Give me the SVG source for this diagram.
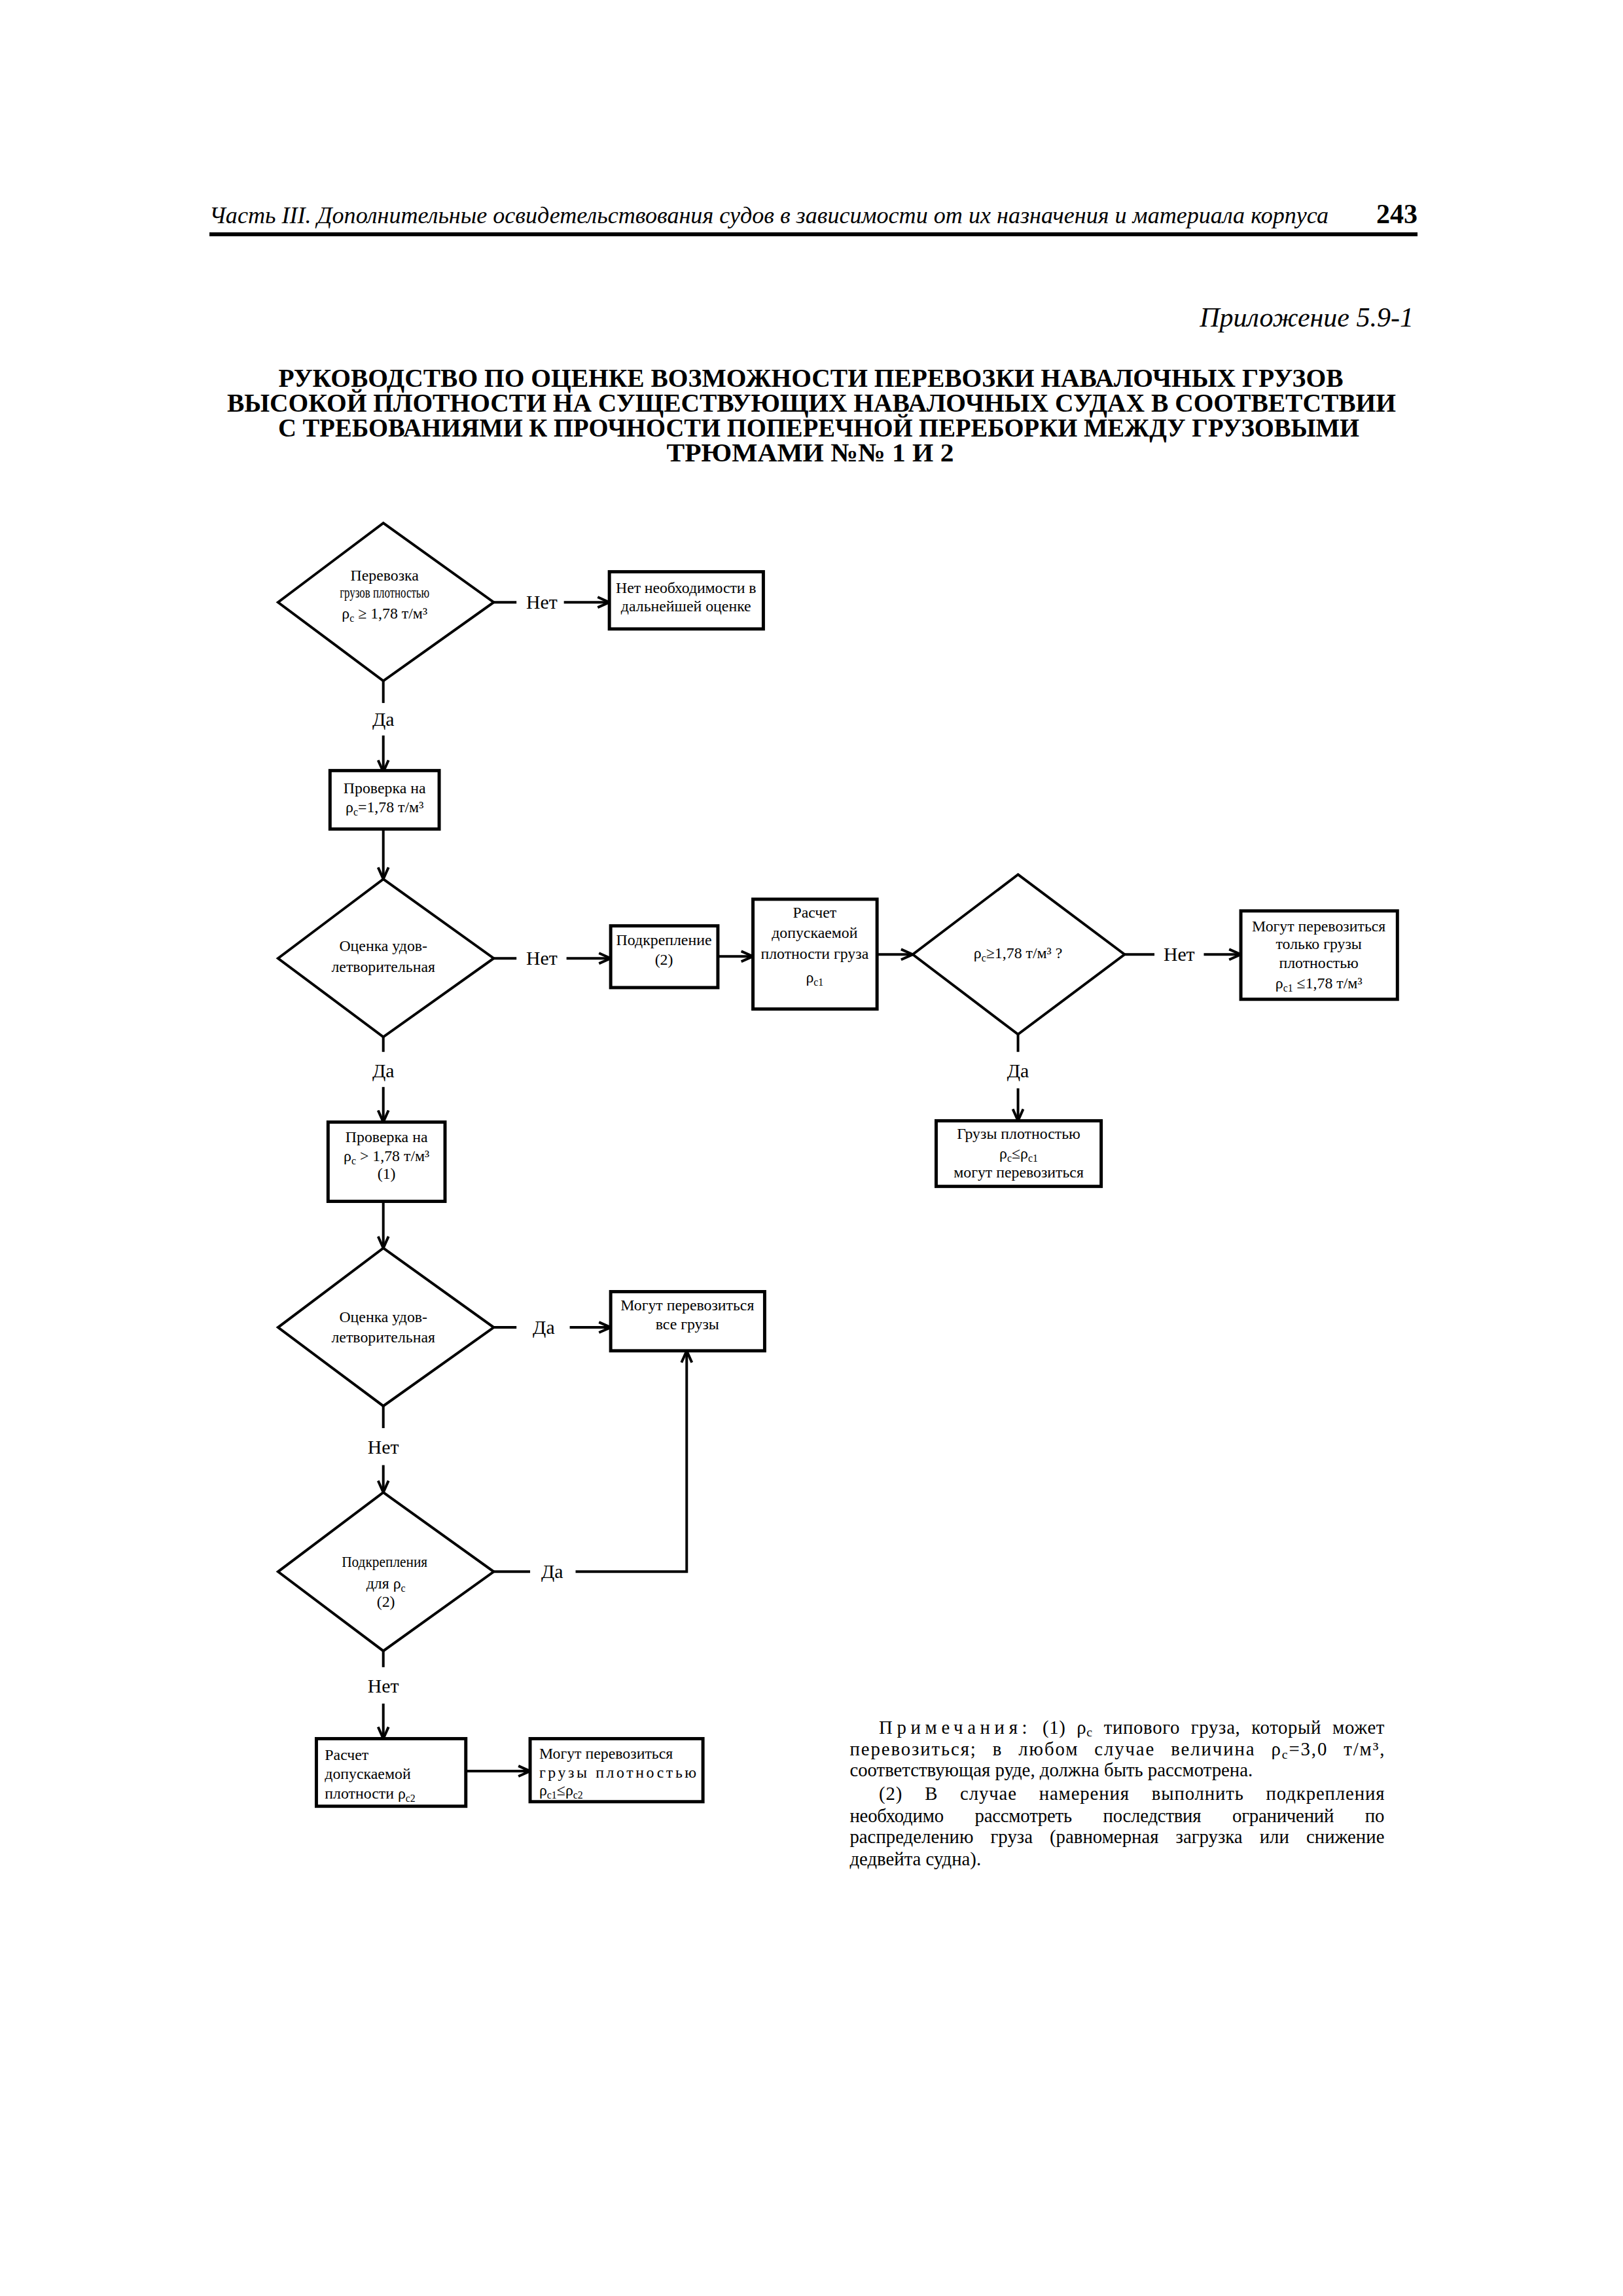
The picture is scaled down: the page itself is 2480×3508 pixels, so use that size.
<svg xmlns="http://www.w3.org/2000/svg" width="2480" height="3508" viewBox="0 0 2480 3508">
<style>
.t{font-family:"Liberation Serif","DejaVu Serif",serif;fill:#000}
.bt{font-size:24px;text-anchor:middle}
.bl{font-size:24px}
.lbl{font-size:30px;text-anchor:middle}
.nt{font-size:29px}
.box{fill:#fff;stroke:#000;stroke-width:5}
.dia{fill:#fff;stroke:#000;stroke-width:4}
.ln{fill:none;stroke:#000;stroke-width:4}
.sub{font-size:16px}
</style>
<defs>
<marker id="arr" viewBox="0 0 20 20" refX="19" refY="10" markerWidth="20" markerHeight="20" markerUnits="userSpaceOnUse" orient="auto">
<path d="M1,2 L19,10 L1,18" fill="none" stroke="#000" stroke-width="4"/>
</marker>
</defs>
<rect width="2480" height="3508" fill="#fff"/>

<g id="header">
<text class="t" x="320" y="341" font-size="35" font-style="italic" textLength="1710" lengthAdjust="spacingAndGlyphs">Часть III. Дополнительные освидетельствования судов в зависимости от их назначения и материала корпуса</text>
<text class="t" x="2166" y="341" font-size="42" font-weight="bold" text-anchor="end">243</text>
<line x1="320" y1="358" x2="2166" y2="358" stroke="#000" stroke-width="6"/>
<text class="t" x="2160" y="499" font-size="42" font-style="italic" text-anchor="end">Приложение 5.9-1</text>
</g>

<g id="title" class="t" font-weight="bold" font-size="40" text-anchor="middle">
<text x="1239" y="591" textLength="1627" lengthAdjust="spacingAndGlyphs">РУКОВОДСТВО ПО ОЦЕНКЕ ВОЗМОЖНОСТИ ПЕРЕВОЗКИ НАВАЛОЧНЫХ ГРУЗОВ</text>
<text x="1240" y="629" textLength="1786" lengthAdjust="spacingAndGlyphs">ВЫСОКОЙ ПЛОТНОСТИ НА СУЩЕСТВУЮЩИХ НАВАЛОЧНЫХ СУДАХ В СООТВЕТСТВИИ</text>
<text x="1251" y="667" textLength="1652" lengthAdjust="spacingAndGlyphs">С ТРЕБОВАНИЯМИ К ПРОЧНОСТИ ПОПЕРЕЧНОЙ ПЕРЕБОРКИ МЕЖДУ ГРУЗОВЫМИ</text>
<text x="1238" y="705" textLength="439" lengthAdjust="spacingAndGlyphs">ТРЮМАМИ №№ 1 И 2</text>
</g>

<g id="diagram" transform="scale(0.9927)">
<g id="connectors">
<line class="ln" x1="760" y1="927" x2="795" y2="927"/>
<line class="ln" x1="868" y1="927" x2="938" y2="927" marker-end="url(#arr)"/>
<line class="ln" x1="590" y1="1048" x2="590" y2="1082"/>
<line class="ln" x1="590" y1="1132" x2="590" y2="1188" marker-end="url(#arr)"/>
<line class="ln" x1="590" y1="1278" x2="590" y2="1353" marker-end="url(#arr)"/>
<line class="ln" x1="760" y1="1475" x2="795" y2="1475"/>
<line class="ln" x1="872" y1="1475" x2="940" y2="1475" marker-end="url(#arr)"/>
<line class="ln" x1="1105" y1="1472" x2="1159" y2="1472" marker-end="url(#arr)"/>
<line class="ln" x1="1350" y1="1469" x2="1405" y2="1469" marker-end="url(#arr)"/>
<line class="ln" x1="1731" y1="1469" x2="1777" y2="1469"/>
<line class="ln" x1="1853" y1="1469" x2="1910" y2="1469" marker-end="url(#arr)"/>
<line class="ln" x1="1567" y1="1592" x2="1567" y2="1619"/>
<line class="ln" x1="1567" y1="1675" x2="1567" y2="1725" marker-end="url(#arr)"/>
<line class="ln" x1="590" y1="1596" x2="590" y2="1619"/>
<line class="ln" x1="590" y1="1673" x2="590" y2="1727" marker-end="url(#arr)"/>
<line class="ln" x1="590" y1="1849" x2="590" y2="1921" marker-end="url(#arr)"/>
<line class="ln" x1="760" y1="2043" x2="795" y2="2043"/>
<line class="ln" x1="877" y1="2043" x2="940" y2="2043" marker-end="url(#arr)"/>
<line class="ln" x1="590" y1="2164" x2="590" y2="2198"/>
<line class="ln" x1="590" y1="2255" x2="590" y2="2297" marker-end="url(#arr)"/>
<line class="ln" x1="760" y1="2419" x2="816" y2="2419"/>
<polyline class="ln" points="886,2419 1057,2419 1057,2079" marker-end="url(#arr)"/>
<line class="ln" x1="590" y1="2541" x2="590" y2="2566"/>
<line class="ln" x1="590" y1="2622" x2="590" y2="2676" marker-end="url(#arr)"/>
<line class="ln" x1="717" y1="2726" x2="816" y2="2726" marker-end="url(#arr)"/>
<g class="t lbl">
<text x="834" y="937">Нет</text>
<text x="590" y="1117">Да</text>
<text x="834" y="1485">Нет</text>
<text x="1815" y="1479">Нет</text>
<text x="1567" y="1658">Да</text>
<text x="590" y="1658">Да</text>
<text x="837" y="2053">Да</text>
<text x="590" y="2237">Нет</text>
<text x="850" y="2429">Да</text>
<text x="590" y="2605">Нет</text>
</g>
</g>

<g id="d1">
<polygon class="dia" points="590,805 760,927 590,1048 428,927"/>
<text class="t bt" x="592" y="894" font-size="22">Перевозка</text>
<text class="t bt" x="592" y="920" font-size="19" textLength="138" lengthAdjust="spacingAndGlyphs">грузов плотностью</text>
<text class="t bt" x="592" y="952">ρ<tspan class="sub" dy="5">c</tspan><tspan dy="-5"> ≥ 1,78 т/м³</tspan></text>
</g>

<g id="b1">
<rect class="box" x="938" y="880" width="237" height="88"/>
<text class="t bt" x="1056" y="913" textLength="216" lengthAdjust="spacing">Нет необходимости в</text>
<text class="t bt" x="1056" y="941">дальнейшей оценке</text>
</g>

<g id="b2">
<rect class="box" x="508" y="1186" width="168" height="90"/>
<text class="t bt" x="592" y="1221">Проверка на</text>
<text class="t bt" x="592" y="1250">ρ<tspan class="sub" dy="5">c</tspan><tspan dy="-5">=1,78 т/м³</tspan></text>
</g>

<g id="d2">
<polygon class="dia" points="590,1353 760,1475 590,1596 428,1475"/>
<text class="t bt" x="590" y="1464">Оценка удов-</text>
<text class="t bt" x="590" y="1496">летворительная</text>
</g>

<g id="b3">
<rect class="box" x="940" y="1425" width="165" height="95"/>
<text class="t bt" x="1022" y="1455">Подкрепление</text>
<text class="t bt" x="1022" y="1485">(2)</text>
</g>

<g id="b4">
<rect class="box" x="1159" y="1384" width="191" height="169"/>
<text class="t bt" x="1254" y="1412">Расчет</text>
<text class="t bt" x="1254" y="1444">допускаемой</text>
<text class="t bt" x="1254" y="1476">плотности груза</text>
<text class="t bt" x="1254" y="1512">ρ<tspan class="sub" dy="5">c1</tspan></text>
</g>

<g id="d3">
<polygon class="dia" points="1567,1346 1731,1469 1567,1592 1405,1469"/>
<text class="t bt" x="1567" y="1475">ρ<tspan class="sub" dy="5">c</tspan><tspan dy="-5">≥1,78 т/м³ ?</tspan></text>
</g>

<g id="b5">
<rect class="box" x="1910" y="1402" width="241" height="136"/>
<text class="t bt" x="2030" y="1433">Могут перевозиться</text>
<text class="t bt" x="2030" y="1461">только грузы</text>
<text class="t bt" x="2030" y="1490">плотностью</text>
<text class="t bt" x="2030" y="1521">ρ<tspan class="sub" dy="5">c1</tspan><tspan dy="-5"> ≤1,78 т/м³</tspan></text>
</g>

<g id="b6">
<rect class="box" x="1441" y="1725" width="254" height="101"/>
<text class="t bt" x="1568" y="1753">Грузы плотностью</text>
<text class="t bt" x="1568" y="1783">ρ<tspan class="sub" dy="5">c</tspan><tspan dy="-5">≤ρ</tspan><tspan class="sub" dy="5">c1</tspan></text>
<text class="t bt" x="1568" y="1812">могут перевозиться</text>
</g>

<g id="b7">
<rect class="box" x="505" y="1727" width="180" height="122"/>
<text class="t bt" x="595" y="1758">Проверка на</text>
<text class="t bt" x="595" y="1787">ρ<tspan class="sub" dy="5">c</tspan><tspan dy="-5"> &gt; 1,78 т/м³</tspan></text>
<text class="t bt" x="595" y="1814">(1)</text>
</g>

<g id="d4">
<polygon class="dia" points="590,1921 760,2043 590,2164 428,2043"/>
<text class="t bt" x="590" y="2035">Оценка удов-</text>
<text class="t bt" x="590" y="2066">летворительная</text>
</g>

<g id="b8">
<rect class="box" x="940" y="1988" width="237" height="91"/>
<text class="t bt" x="1058" y="2017">Могут перевозиться</text>
<text class="t bt" x="1058" y="2046">все грузы</text>
</g>

<g id="d5">
<polygon class="dia" points="590,2297 760,2419 590,2541 428,2419"/>
<text class="t bt" x="592" y="2412" font-size="22" textLength="132" lengthAdjust="spacingAndGlyphs">Подкрепления</text>
<text class="t bt" x="594" y="2445">для ρ<tspan class="sub" dy="5">c</tspan></text>
<text class="t bt" x="594" y="2473">(2)</text>
</g>

<g id="b9">
<rect class="box" x="487" y="2676" width="230" height="104"/>
<text class="t bl" x="500" y="2709">Расчет</text>
<text class="t bl" x="500" y="2738">допускаемой</text>
<text class="t bl" x="500" y="2768">плотности ρ<tspan class="sub" dy="5">c2</tspan></text>
</g>

<g id="b10">
<rect class="box" x="816" y="2676" width="266" height="97"/>
<text class="t bl" x="830" y="2707">Могут перевозиться</text>
<text class="t bl" x="830" y="2736" textLength="242" lengthAdjust="spacing">грузы плотностью</text>
<text class="t bl" x="830" y="2763">ρ<tspan class="sub" dy="5">c1</tspan><tspan dy="-5">≤ρ</tspan><tspan class="sub" dy="5">c2</tspan></text>
</g>

<g id="notes" class="t nt">
<text x="1353" y="2668" word-spacing="9" textLength="778" lengthAdjust="spacing"><tspan letter-spacing="6">Примечания:</tspan> (1) ρ<tspan font-size="20" dy="5">c</tspan><tspan dy="-5"> типового груза, который может</tspan></text>
<text x="1308" y="2702" word-spacing="15" textLength="823" lengthAdjust="spacing">перевозиться; в любом случае величина ρ<tspan font-size="20" dy="5">c</tspan><tspan dy="-5">=3,0 т/м³,</tspan></text>
<text x="1308" y="2734">соответствующая руде, должна быть рассмотрена.</text>
<text x="1353" y="2770" word-spacing="26" textLength="778" lengthAdjust="spacing">(2) В случае намерения выполнить подкрепления</text>
<text x="1308" y="2804" word-spacing="41" textLength="823" lengthAdjust="spacing">необходимо рассмотреть последствия ограничений по</text>
<text x="1308" y="2837" word-spacing="19" textLength="823" lengthAdjust="spacing">распределению груза (равномерная загрузка или снижение</text>
<text x="1308" y="2871">дедвейта судна).</text>
</g>
</g>
</svg>
